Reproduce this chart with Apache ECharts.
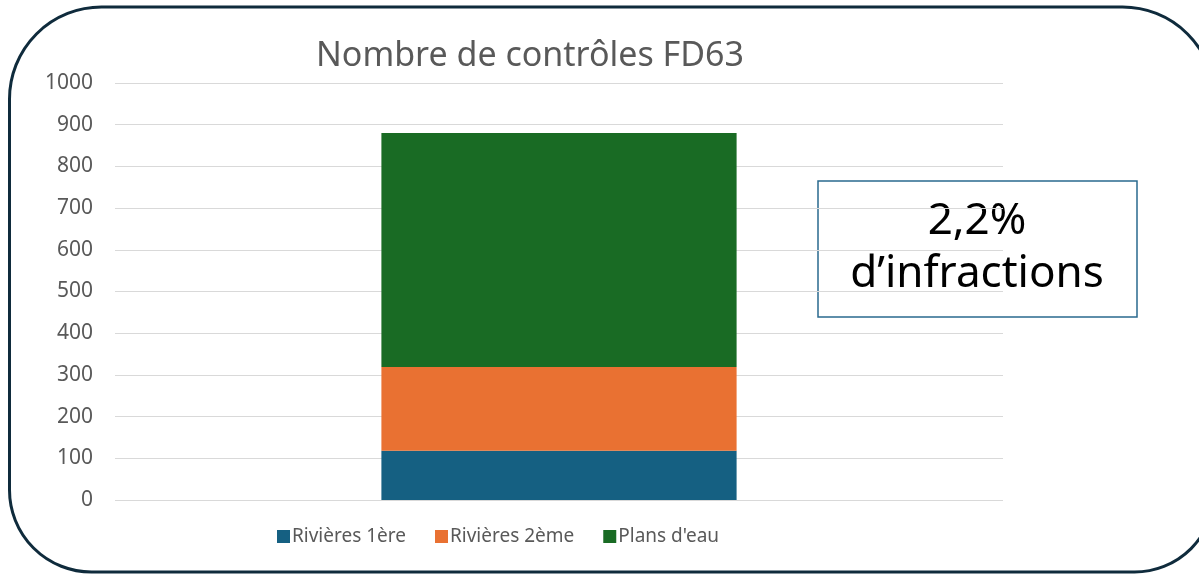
<!DOCTYPE html>
<html>
<head>
<meta charset="utf-8">
<script src="https://cdn.jsdelivr.net/npm/echarts@6/dist/echarts.min.js"></script>
<style>
  html, body { margin: 0; padding: 0; background: #fff; }
  #chart { width: 1199px; height: 576px; }
</style>
</head>
<body>
<div id="chart"></div>
<script>
// data
const categories = ['FD63'];
const seriesNames = ['Rivières 1ère', 'Rivières 2ème', "Plans d'eau"];
const riv1 = [118];
const riv2 = [201];
const plans = [561];
const yTicks = [0, 100, 200, 300, 400, 500, 600, 700, 800, 900, 1000];
const colors = ['#156082', '#E97132', '#196B24'];

const font = '"Noto Sans", Roboto, sans-serif';
const chart = echarts.init(document.getElementById('chart'));

chart.setOption({
  animation: false,
  textStyle: { fontFamily: font },
  title: {
    text: 'Nombre de contrôles FD63',
    left: 311,
    top: 34,
    textStyle: { fontSize: 34, fontWeight: 'normal', color: '#595959', fontFamily: font },
  },
  grid: { left: 115, right: 196, top: 83, bottom: 76 },
  legend: {
    bottom: 25,
    left: 272,
    itemWidth: 13,
    itemHeight: 13,
    itemGap: 29,
    icon: 'rect',
    textStyle: { fontSize: 19, color: '#595959', padding: [0, 0, 0, -3] },
    data: seriesNames,
  },
  xAxis: {
    type: 'category',
    data: categories,
    axisLine: { show: false },
    axisTick: { show: false },
    axisLabel: { show: false },
  },
  yAxis: {
    type: 'value',
    min: yTicks[0],
    max: yTicks[yTicks.length - 1],
    interval: 100,
    axisLine: { show: false },
    axisTick: { show: false },
    axisLabel: { fontSize: 21, color: '#595959', margin: 22, formatter: v => String(v) },
    splitLine: { lineStyle: { color: '#d9d9d9', width: 1 } },
  },
  series: [
    { name: seriesNames[0], type: 'bar', stack: 'total', data: riv1, barWidth: '40%', itemStyle: { color: colors[0] } },
    { name: seriesNames[1], type: 'bar', stack: 'total', data: riv2, itemStyle: { color: colors[1] } },
    { name: seriesNames[2], type: 'bar', stack: 'total', data: plans, itemStyle: { color: colors[2] } },
  ],
  graphic: [
    {
      type: 'rect',
      shape: { x: 9.5, y: 7, width: 1205, height: 565, r: [92, 92, 80, 82] },
      style: { fill: 'none', stroke: '#0f2b3c', lineWidth: 3 },
      silent: true,
    },
    {
      type: 'rect',
      shape: { x: 818, y: 181, width: 319, height: 136 },
      style: { fill: 'none', stroke: '#2a6a8e', lineWidth: 1.5 },
      silent: true,
    },
    {
      type: 'text',
      x: 977,
      y: 195,
      style: {
        text: '2,2%\nd’infractions',
        fill: '#000',
        font: '44px ' + font,
        align: 'center',
        verticalAlign: 'top',
        lineHeight: 53,
      },
    },
  ],
});
</script>
</body>
</html>
